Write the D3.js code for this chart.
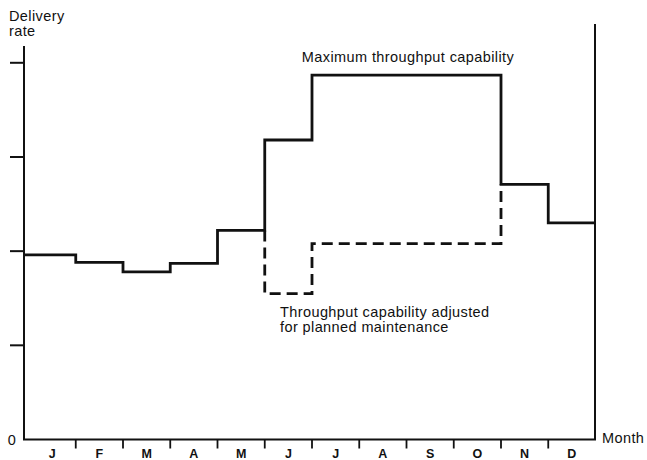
<!DOCTYPE html>
<html>
<head>
<meta charset="utf-8">
<script src="https://cdn.jsdelivr.net/npm/d3@7"></script>
<style>
  html, body { margin: 0; padding: 0; background: #fff; }
  svg { display: block; }
  text { font-family: "Liberation Sans", Arial, Helvetica, sans-serif; fill: #111; }
  .lbl { font-size: 14.5px; letter-spacing: 0.4px; }
</style>
</head>
<body>
<script>
// ---- data ----
const months = ["J","F","M","A","M","J","J","A","S","O","N","D"];
const maxCapability = [1.96, 1.88, 1.78, 1.87, 2.22, 3.18, 3.87, 3.87, 3.87, 3.87, 2.71, 2.30];
const adjustedCapability = [null, null, null, null, null, 1.55, 2.08, 2.08, 2.08, 2.08, null, null];
const yTicks = [0, 1, 2, 3, 4];
const yTickLabels = ["0", "", "", "", ""];

// ---- layout ----
const W = 647, H = 460;
const axisLeft = 24, axisRight = 595;
const svg = d3.select("body").append("svg").attr("width", W).attr("height", H);

const x = d3.scaleLinear().domain([0, 12]).range([28.5, 595.5]);
const y = d3.scaleLinear().domain([0, 4]).range([439.5, 62.8]);

const ink = "#111";

// axes
svg.append("line").attr("x1", axisLeft).attr("x2", axisLeft).attr("y1", 46).attr("y2", y(0))
  .attr("stroke", ink).attr("stroke-width", 2);
svg.append("line").attr("x1", axisRight).attr("x2", axisRight).attr("y1", 24).attr("y2", y(0))
  .attr("stroke", ink).attr("stroke-width", 2);
svg.append("line").attr("x1", axisLeft - 1).attr("x2", axisRight + 1).attr("y1", y(0)).attr("y2", y(0))
  .attr("stroke", ink).attr("stroke-width", 2.2);

// y ticks (outward, left)
svg.selectAll(".ytick").data(yTicks.filter(d => d > 0)).enter().append("line")
  .attr("x1", axisLeft - 14).attr("x2", axisLeft)
  .attr("y1", d => y(d)).attr("y2", d => y(d))
  .attr("stroke", ink).attr("stroke-width", 2);
svg.selectAll(".ylab").data(yTicks).enter().append("text")
  .attr("class", "lbl")
  .attr("x", 12).attr("y", d => y(d) + 5)
  .attr("text-anchor", "middle")
  .text((d, i) => yTickLabels[i]);

// x ticks between months (downward)
svg.selectAll(".xtick").data(d3.range(1, 12)).enter().append("line")
  .attr("x1", d => x(d)).attr("x2", d => x(d))
  .attr("y1", y(0)).attr("y2", y(0) + 9)
  .attr("stroke", ink).attr("stroke-width", 1.8);
svg.selectAll(".xlab").data(months).enter().append("text")
  .attr("x", (d, i) => x(i + 0.5)).attr("y", 458)
  .attr("text-anchor", "middle").attr("font-size", 12.5).attr("font-weight", "bold")
  .text(d => d);

// axis titles
svg.append("text").attr("class", "lbl").attr("x", 9).attr("y", 21).text("Delivery");
svg.append("text").attr("class", "lbl").attr("x", 9).attr("y", 36).text("rate");
svg.append("text").attr("class", "lbl").attr("x", 602).attr("y", 443).text("Month");

// solid step line: maximum throughput capability
const solidPts = [[axisLeft, y(maxCapability[0])]];
maxCapability.forEach((v, i) => {
  solidPts.push([x(i), y(v)]);
  solidPts.push([x(i + 1), y(v)]);
});
solidPts[1][0] = axisLeft;
solidPts[solidPts.length - 1][0] = axisRight;
svg.append("path")
  .attr("d", d3.line()(solidPts))
  .attr("fill", "none").attr("stroke", ink).attr("stroke-width", 2.8)
  .attr("stroke-linejoin", "miter");

// dashed step line: adjusted for planned maintenance
const firstAdj = adjustedCapability.findIndex(v => v !== null);
let lastAdj = -1;
adjustedCapability.forEach((v, i) => { if (v !== null) lastAdj = i; });
const dashPts = [[x(firstAdj), y(maxCapability[firstAdj - 1])]];
for (let i = firstAdj; i <= lastAdj; i++) {
  dashPts.push([x(i), y(adjustedCapability[i])]);
  dashPts.push([x(i + 1), y(adjustedCapability[i])]);
}
dashPts.push([x(lastAdj + 1), y(maxCapability[lastAdj + 1])]);
svg.append("path")
  .attr("d", d3.line()(dashPts))
  .attr("fill", "none").attr("stroke", ink).attr("stroke-width", 2.8)
  .attr("stroke-dasharray", "11,6");

// annotations
svg.append("text").attr("class", "lbl").attr("x", 408).attr("y", 62).attr("text-anchor", "middle")
  .text("Maximum throughput capability");
svg.append("text").attr("class", "lbl").attr("x", 280).attr("y", 317)
  .text("Throughput capability adjusted");
svg.append("text").attr("class", "lbl").attr("x", 280).attr("y", 332)
  .text("for planned maintenance");
</script>
</body>
</html>
